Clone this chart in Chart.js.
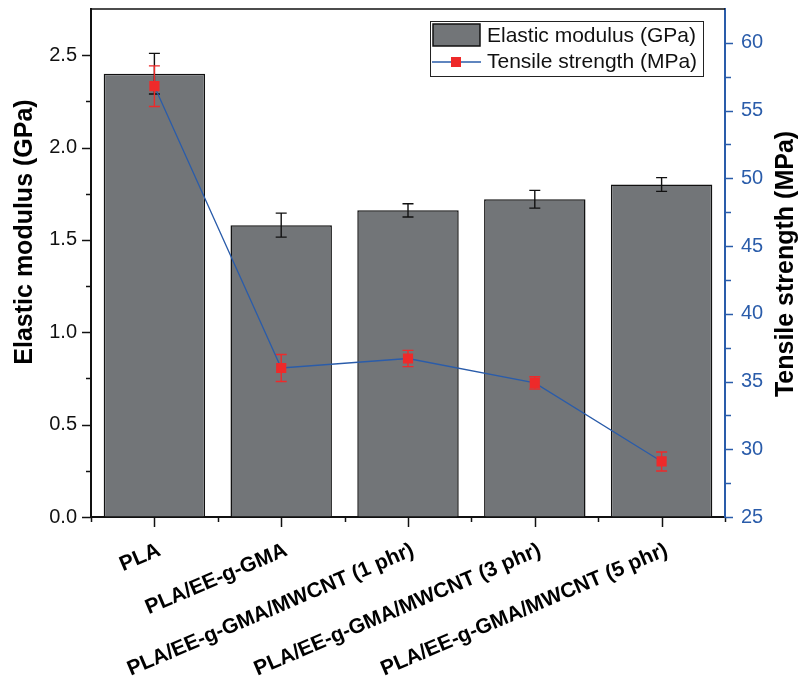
<!DOCTYPE html>
<html>
<head>
<meta charset="utf-8">
<script src="https://cdn.jsdelivr.net/npm/chart.js@4.4.1/dist/chart.umd.min.js"></script>
<style>
  body { margin: 0; background: #fff; }
  #wrap { width: 799px; height: 688px; position: relative; }
</style>
</head>
<body>
<div id="wrap"><canvas id="chart"></canvas></div>
<script>
// samples on the x axis
const samples = ['PLA', 'PLA/EE-g-GMA', 'PLA/EE-g-GMA/MWCNT (1 phr)', 'PLA/EE-g-GMA/MWCNT (3 phr)', 'PLA/EE-g-GMA/MWCNT (5 phr)'];
// elastic modulus (GPa) and its error
const modulus = [2.40, 1.58, 1.66, 1.72, 1.80];
const modulusErr = [0.11, 0.065, 0.036, 0.048, 0.037];
// tensile strength (MPa) and its error
const strength = [56.8, 36.0, 36.7, 34.9, 29.1];
const strengthErr = [1.5, 1.0, 0.6, 0.45, 0.7];
// tick marks on the two value axes
const leftTicks = [0, 0.25, 0.5, 0.75, 1.0, 1.25, 1.5, 1.75, 2.0, 2.25, 2.5];
const rightTicks = [25, 27.5, 30, 32.5, 35, 37.5, 40, 42.5, 45, 47.5, 50, 52.5, 55, 57.5, 60];

const BAR_GRAY = '#727578';
const BLUE = '#2a5caa';
const RED = '#ee2a2a';

// error bars, tick marks, frame, titles and legend
const extras = {
    id: 'extras',
    beforeDatasetDraw(chart, args) {
        if (args.index !== 1) return;
        drawErrors(chart, strength, strengthErr, chart.scales.y1, RED);
    },
    afterDatasetDraw(chart, args) {
        if (args.index !== 0) return;
        drawErrors(chart, modulus, modulusErr, chart.scales.y, '#111');
    },
    afterDraw(chart) {
        const ctx = chart.ctx;
        const a = chart.chartArea;
        const x = chart.scales.x, y = chart.scales.y, y1 = chart.scales.y1;
        ctx.save();
        ctx.lineWidth = 1.5;

        // top frame line
        ctx.strokeStyle = '#111';
        ctx.beginPath();
        ctx.moveTo(a.left, a.top);
        ctx.lineTo(a.right, a.top);
        ctx.stroke();

        // left ticks
        leftTicks.forEach(v => {
            const py = Math.round(y.getPixelForValue(v)) + 0.5;
            const major = Math.abs(v * 2 - Math.round(v * 2)) < 1e-6;
            ctx.beginPath();
            ctx.moveTo(a.left, py);
            ctx.lineTo(a.left - (major ? 9 : 5), py);
            ctx.stroke();
        });

        // bottom ticks: long at samples, short between them
        samples.forEach((s, i) => {
            const px = Math.round(x.getPixelForValue(i)) + 0.5;
            ctx.beginPath();
            ctx.moveTo(px, a.bottom);
            ctx.lineTo(px, a.bottom + 10);
            ctx.stroke();
        });
        for (let i = 0; i <= samples.length; i++) {
            const px = Math.round(x.getPixelForValue(i - 0.5)) + 0.5;
            ctx.beginPath();
            ctx.moveTo(px, a.bottom);
            ctx.lineTo(px, a.bottom + 5);
            ctx.stroke();
        }

        // right ticks
        ctx.strokeStyle = BLUE;
        rightTicks.forEach(v => {
            const py = Math.round(y1.getPixelForValue(v)) + 0.5;
            const major = v % 5 === 0;
            ctx.beginPath();
            ctx.moveTo(a.right, py);
            ctx.lineTo(a.right + (major ? 8 : 6), py);
            ctx.stroke();
        });

        // axis titles, both reading upwards
        ctx.fillStyle = '#000';
        ctx.font = 'bold 25px "Liberation Sans", Arial, sans-serif';
        ctx.textAlign = 'center';
        ctx.textBaseline = 'middle';
        ctx.save();
        ctx.translate(25, 232);
        ctx.rotate(-Math.PI / 2);
        ctx.fillText('Elastic modulus (GPa)', 0, 0);
        ctx.restore();
        ctx.save();
        ctx.translate(786, 264);
        ctx.rotate(-Math.PI / 2);
        ctx.fillText('Tensile strength (MPa)', 0, 0);
        ctx.restore();

        // legend
        ctx.lineWidth = 1;
        ctx.strokeStyle = '#222';
        ctx.strokeRect(430.5, 21.5, 273, 55);
        ctx.fillStyle = BAR_GRAY;
        ctx.fillRect(433, 24, 47, 22);
        ctx.lineWidth = 1.5;
        ctx.strokeStyle = '#111';
        ctx.strokeRect(433, 24, 47, 22);
        ctx.strokeStyle = BLUE;
        ctx.lineWidth = 1.3;
        ctx.beginPath();
        ctx.moveTo(432, 62);
        ctx.lineTo(481, 62);
        ctx.stroke();
        ctx.fillStyle = RED;
        ctx.fillRect(451, 57, 10, 10);
        ctx.fillStyle = '#111';
        ctx.font = '21px "Liberation Sans", Arial, sans-serif';
        ctx.textAlign = 'left';
        ctx.fillText('Elastic modulus (GPa)', 487, 36);
        ctx.fillText('Tensile strength (MPa)', 487, 62);
        ctx.restore();
    }
};

function drawErrors(chart, vals, errs, scale, color) {
    const ctx = chart.ctx;
    const x = chart.scales.x;
    ctx.save();
    ctx.strokeStyle = color;
    ctx.lineWidth = 1.4;
    vals.forEach((v, i) => {
        const px = x.getPixelForValue(i);
        const top = scale.getPixelForValue(v + errs[i]);
        const bot = scale.getPixelForValue(v - errs[i]);
        ctx.beginPath();
        ctx.moveTo(px, top);
        ctx.lineTo(px, bot);
        ctx.moveTo(px - 5.5, top);
        ctx.lineTo(px + 5.5, top);
        ctx.moveTo(px - 5.5, bot);
        ctx.lineTo(px + 5.5, bot);
        ctx.stroke();
    });
    ctx.restore();
}

const tickFont = { family: '"Liberation Sans", Arial, sans-serif', size: 20 };

new Chart(document.getElementById('chart'), {
    type: 'bar',
    data: {
        labels: samples,
        datasets: [
            {
                label: 'Elastic modulus (GPa)',
                data: modulus,
                yAxisID: 'y',
                backgroundColor: BAR_GRAY,
                borderColor: '#111',
                borderWidth: 1.5,
                barPercentage: 0.8,
                categoryPercentage: 1.0,
                order: 1
            },
            {
                type: 'line',
                label: 'Tensile strength (MPa)',
                data: strength,
                yAxisID: 'y1',
                borderColor: BLUE,
                borderWidth: 1.3,
                pointStyle: 'rect',
                pointRadius: 7.2,
                pointBackgroundColor: RED,
                pointBorderWidth: 0,
                tension: 0,
                order: 0
            }
        ]
    },
    options: {
        responsive: true,
        maintainAspectRatio: false,
        animation: false,
        layout: { padding: { top: 9, left: 0, right: 0, bottom: 0 } },
        plugins: {
            legend: { display: false },
            tooltip: { enabled: false }
        },
        scales: {
            x: {
                offset: true,
                grid: { drawOnChartArea: false, drawTicks: false },
                border: { color: '#111', width: 2 },
                ticks: {
                    autoSkip: false,
                    minRotation: 23,
                    maxRotation: 23,
                    padding: 21,
                    labelOffset: 5,
                    color: '#000',
                    font: { family: tickFont.family, size: 21, weight: 'bold' }
                },
                afterFit(s) {
                    s.height = 171;
                    s.paddingLeft = 0;
                    s.paddingRight = 0;
                }
            },
            y: {
                position: 'left',
                min: 0,
                max: 2.75,
                grid: { drawOnChartArea: false, drawTicks: false },
                border: { color: '#111', width: 2 },
                ticks: {
                    stepSize: 0.25,
                    autoSkip: false,
                    padding: 14,
                    color: '#111',
                    font: tickFont,
                    callback: v => (Math.abs(v * 2 - Math.round(v * 2)) < 1e-6 && v < 2.75) ? v.toFixed(1) : ''
                },
                afterFit(s) {
                    s.width = 91;
                    s.paddingTop = 0;
                    s.paddingBottom = 0;
                }
            },
            y1: {
                position: 'right',
                min: 25,
                max: 62.5,
                grid: { drawOnChartArea: false, drawTicks: false },
                border: { color: BLUE, width: 2 },
                ticks: {
                    stepSize: 2.5,
                    autoSkip: false,
                    padding: 16,
                    color: BLUE,
                    font: tickFont,
                    callback: v => (v % 5 === 0 && v < 62.5) ? v : ''
                },
                afterFit(s) {
                    s.width = 74;
                    s.paddingTop = 0;
                    s.paddingBottom = 0;
                }
            }
        }
    },
    plugins: [extras]
});
</script>
</body>
</html>
